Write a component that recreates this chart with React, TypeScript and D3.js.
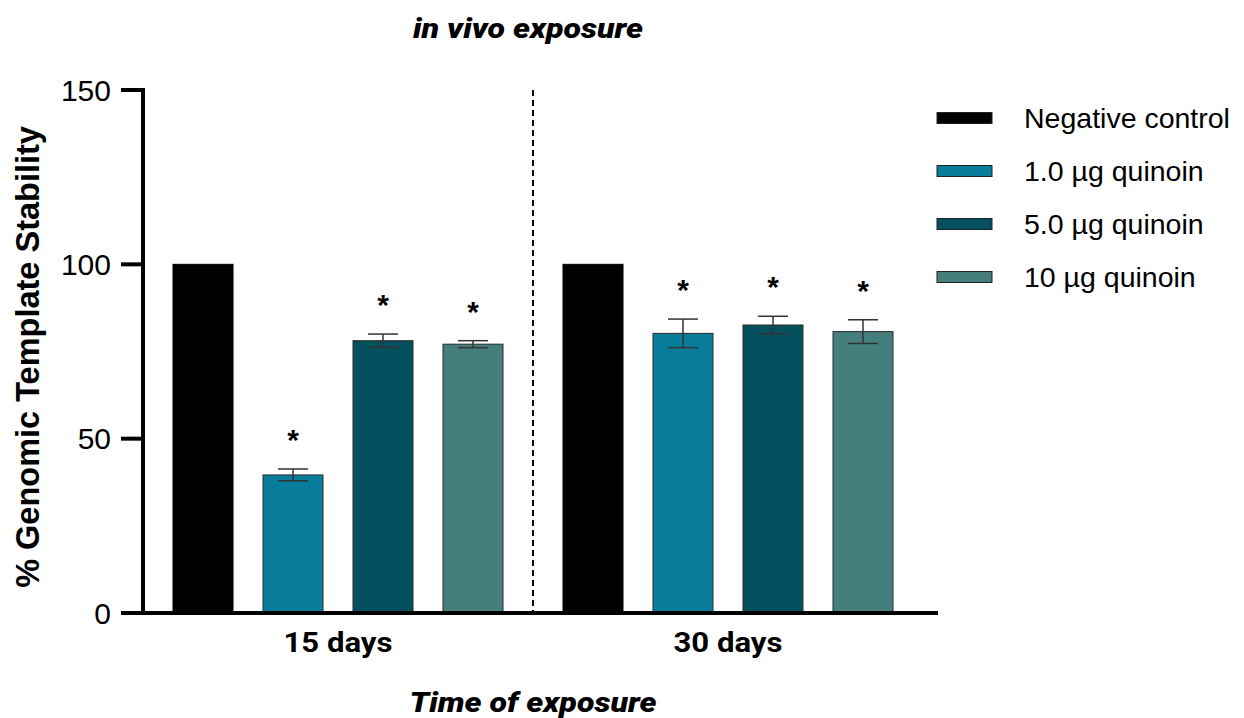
import React from "react";
import * as d3 from "d3";

const groups = ["15 days", "30 days"];
const series = ["Negative control", "1.0 µg quinoin", "5.0 µg quinoin", "10 µg quinoin"];
const colors = ["#000000", "#087d9b", "#05505f", "#457f7d"];
const means15 = [100, 39.6, 78.1, 77.1];
const means30 = [100, 80.2, 82.6, 80.7];
const err15 = [0, 1.7, 1.9, 1.0];
const err30 = [0, 4.1, 2.5, 3.4];
const sig15 = [false, true, true, true];
const sig30 = [false, true, true, true];
const yTicks = [0, 50, 100, 150];

const W = 1244;
const H = 718;
const AX = 143;
const AY = 613;

export default function App() {
  const y = d3.scaleLinear().domain([0, 150]).range([AY, 90]);
  const x0 = d3
    .scaleBand<string>()
    .domain(groups)
    .range([128, 938])
    .paddingInner(30 / 390)
    .paddingOuter(30 / 390);
  const x1 = d3
    .scaleBand<string>()
    .domain(series)
    .range([0, x0.bandwidth()])
    .paddingInner(1 / 3)
    .paddingOuter(1 / 6);

  const data = groups.map((g, gi) => ({
    g,
    means: gi === 0 ? means15 : means30,
    errs: gi === 0 ? err15 : err30,
    sigs: gi === 0 ? sig15 : sig30,
  }));

  const dividerX = (x0(groups[0])! + x0.bandwidth() + x0(groups[1])!) / 2;
  const starFs = 30;
  const regular = "'Liberation Sans', Arial, sans-serif";
  const boldF = "Roboto, 'Liberation Sans', sans-serif";

  return (
    <svg width={W} height={H} style={{ position: "absolute", left: 0, top: 0, background: "#fff" }}>
      <rect x={0} y={0} width={W} height={H} fill="#fff" />
      {/* Title */}
      <text x={528} y={38} textAnchor="middle" fontFamily={boldF} fontWeight={900} fontStyle="italic" fontSize={28} textLength={230} lengthAdjust="spacingAndGlyphs">
        in vivo exposure
      </text>

      {/* bars */}
      {data.map((d) => (
        <g key={d.g} transform={`translate(${x0(d.g)},0)`}>
          {series.map((s, i) => {
            const bx = x1(s)!;
            const bw = x1.bandwidth();
            const top = y(d.means[i]);
            return (
              <rect key={s} x={bx} y={top} width={bw} height={AY - top} fill={colors[i]} stroke={i === 0 ? "#000" : "#2a2a2a"} strokeWidth={1} />
            );
          })}
          {series.map((s, i) => {
            if (!d.errs[i]) return null;
            const cx = x1(s)! + x1.bandwidth() / 2;
            const yt = y(d.means[i] + d.errs[i]);
            const yb = y(d.means[i] - d.errs[i]);
            return (
              <g key={"e" + s} stroke="#333" strokeWidth={1.5}>
                <line x1={cx} x2={cx} y1={yt} y2={yb} />
                <line x1={cx - 15} x2={cx + 15} y1={yt} y2={yt} />
                <line x1={cx - 15} x2={cx + 15} y1={yb} y2={yb} />
              </g>
            );
          })}
          {series.map((s, i) => {
            if (!d.sigs[i]) return null;
            const cx = x1(s)! + x1.bandwidth() / 2;
            const yt = y(d.means[i] + d.errs[i]);
            return (
              <text key={"s" + s} x={cx} y={yt - 36 + 0.57 * starFs} textAnchor="middle" fontFamily={regular} fontWeight={700} fontSize={starFs} fill="#000">
                *
              </text>
            );
          })}
        </g>
      ))}

      {/* divider */}
      <line x1={dividerX} x2={dividerX} y1={90} y2={AY} stroke="#000" strokeWidth={2} strokeDasharray="6,4" />

      {/* axes */}
      <line x1={AX} x2={AX} y1={88} y2={AY + 2} stroke="#000" strokeWidth={4} />
      <line x1={AX - 2} x2={938} y1={AY} y2={AY} stroke="#000" strokeWidth={4} />
      {yTicks.map((t) => (
        <g key={t}>
          <line x1={121} x2={AX} y1={y(t)} y2={y(t)} stroke="#000" strokeWidth={4} />
          <text x={111} y={y(t)} dy="0.36em" textAnchor="end" fontFamily={regular} fontSize={30} fill="#000">
            {t}
          </text>
        </g>
      ))}

      {/* group labels */}
      {groups.map((g) => (
        <text key={g} x={x0(g)! + x0.bandwidth() / 2} y={652} textAnchor="middle" fontFamily={boldF} fontWeight={700} fontSize={28} textLength={109} lengthAdjust="spacingAndGlyphs">
          {g}
        </text>
      ))}

      {/* x title */}
      <text x={533} y={712} textAnchor="middle" fontFamily={boldF} fontWeight={900} fontStyle="italic" fontSize={28} textLength={247} lengthAdjust="spacingAndGlyphs">
        Time of exposure
      </text>

      {/* y title */}
      <text transform={`translate(39,357) rotate(-90)`} textAnchor="middle" fontFamily={regular} fontWeight={700} fontSize={32.5} fill="#000">
        % Genomic Template Stability
      </text>

      {/* legend */}
      {series.map((s, i) => {
        const cy = 118 + i * 53;
        return (
          <g key={s}>
            <rect x={937} y={cy - 5.5} width={55} height={11} fill={colors[i]} stroke="#222" strokeWidth={1} />
            <text x={1024} y={cy} dy="0.36em" fontFamily={regular} fontSize={28.5} fill="#000">
              {s}
            </text>
          </g>
        );
      })}
    </svg>
  );
}
